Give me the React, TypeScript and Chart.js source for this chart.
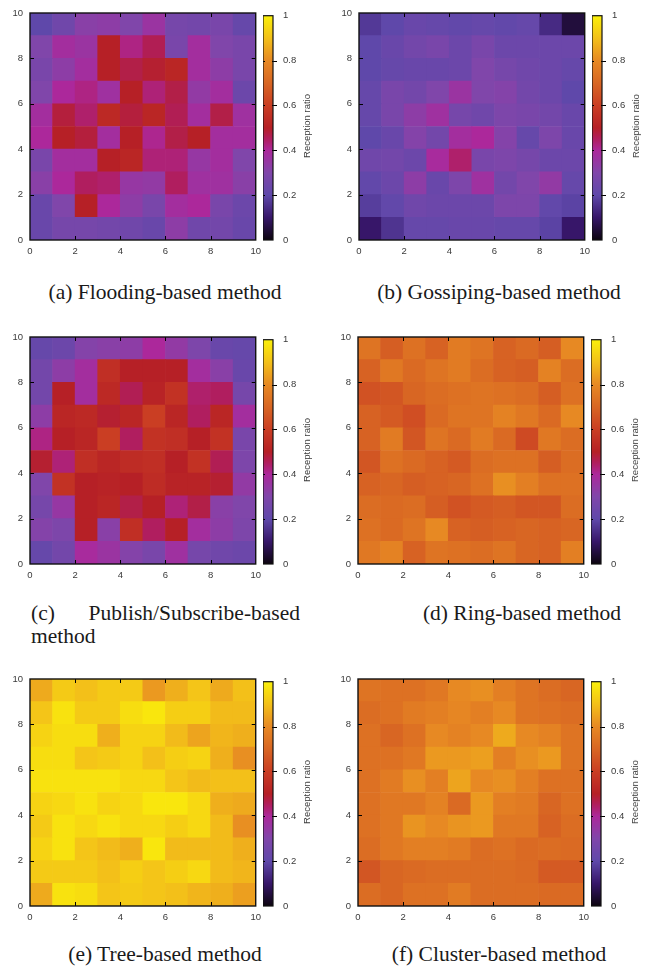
import React, { useEffect, useRef } from "react";
import { Chart, registerables } from "chart.js";

Chart.register(...registerables);

// ---------- data ----------
// Each grid: rows listed from top (y = 9..10) to bottom (y = 0..1), columns x = 0..9
const ROWS = [9, 8, 7, 6, 5, 4, 3, 2, 1, 0];
const COLS = [0, 1, 2, 3, 4, 5, 6, 7, 8, 9];
const AXIS_TICKS = [0, 2, 4, 6, 8, 10];
const CB_TICKS = [0, 0.2, 0.4, 0.6, 0.8, 1];
const CB_TITLE = "Reception ratio";

const flooding = [
  [0.20, 0.25, 0.32, 0.33, 0.30, 0.36, 0.27, 0.26, 0.28, 0.22],
  [0.30, 0.38, 0.36, 0.50, 0.42, 0.46, 0.28, 0.38, 0.30, 0.28],
  [0.28, 0.33, 0.38, 0.50, 0.47, 0.49, 0.52, 0.38, 0.33, 0.28],
  [0.30, 0.40, 0.42, 0.37, 0.50, 0.43, 0.47, 0.34, 0.38, 0.24],
  [0.38, 0.48, 0.44, 0.53, 0.48, 0.52, 0.46, 0.38, 0.47, 0.37],
  [0.40, 0.50, 0.48, 0.38, 0.50, 0.41, 0.47, 0.50, 0.38, 0.38],
  [0.28, 0.38, 0.38, 0.50, 0.52, 0.43, 0.43, 0.35, 0.38, 0.30],
  [0.32, 0.40, 0.45, 0.44, 0.35, 0.34, 0.45, 0.37, 0.37, 0.32],
  [0.23, 0.30, 0.50, 0.40, 0.33, 0.28, 0.38, 0.40, 0.28, 0.24],
  [0.23, 0.27, 0.27, 0.26, 0.25, 0.23, 0.33, 0.25, 0.26, 0.23],
];

const gossiping = [
  [0.17, 0.20, 0.23, 0.22, 0.21, 0.22, 0.21, 0.22, 0.14, 0.05],
  [0.20, 0.23, 0.26, 0.28, 0.24, 0.28, 0.24, 0.24, 0.24, 0.24],
  [0.20, 0.22, 0.23, 0.23, 0.24, 0.30, 0.27, 0.25, 0.24, 0.22],
  [0.22, 0.28, 0.26, 0.30, 0.36, 0.30, 0.31, 0.26, 0.24, 0.20],
  [0.22, 0.28, 0.33, 0.37, 0.27, 0.25, 0.29, 0.28, 0.26, 0.23],
  [0.20, 0.23, 0.31, 0.26, 0.38, 0.40, 0.31, 0.22, 0.29, 0.23],
  [0.25, 0.26, 0.24, 0.39, 0.44, 0.28, 0.29, 0.27, 0.24, 0.24],
  [0.21, 0.24, 0.33, 0.23, 0.29, 0.37, 0.26, 0.30, 0.34, 0.22],
  [0.18, 0.21, 0.25, 0.24, 0.24, 0.24, 0.29, 0.29, 0.21, 0.19],
  [0.10, 0.16, 0.22, 0.22, 0.23, 0.23, 0.22, 0.22, 0.19, 0.10],
];

const pubsub = [
  [0.22, 0.24, 0.31, 0.32, 0.33, 0.40, 0.34, 0.29, 0.23, 0.22],
  [0.26, 0.33, 0.38, 0.55, 0.50, 0.50, 0.50, 0.38, 0.32, 0.23],
  [0.26, 0.50, 0.38, 0.53, 0.46, 0.51, 0.56, 0.44, 0.45, 0.27],
  [0.33, 0.52, 0.53, 0.49, 0.52, 0.60, 0.52, 0.45, 0.52, 0.38],
  [0.42, 0.50, 0.52, 0.60, 0.45, 0.56, 0.55, 0.50, 0.56, 0.28],
  [0.49, 0.43, 0.55, 0.52, 0.54, 0.55, 0.50, 0.56, 0.46, 0.29],
  [0.30, 0.56, 0.50, 0.51, 0.50, 0.54, 0.51, 0.51, 0.49, 0.34],
  [0.27, 0.35, 0.50, 0.52, 0.47, 0.50, 0.43, 0.47, 0.32, 0.30],
  [0.31, 0.29, 0.50, 0.32, 0.55, 0.45, 0.50, 0.38, 0.33, 0.29],
  [0.22, 0.26, 0.39, 0.36, 0.31, 0.28, 0.37, 0.27, 0.25, 0.24],
];

const ring = [
  [0.74, 0.68, 0.73, 0.69, 0.76, 0.74, 0.69, 0.71, 0.68, 0.80],
  [0.69, 0.75, 0.71, 0.74, 0.76, 0.72, 0.69, 0.68, 0.78, 0.72],
  [0.65, 0.66, 0.70, 0.72, 0.73, 0.74, 0.73, 0.72, 0.68, 0.73],
  [0.69, 0.67, 0.64, 0.71, 0.74, 0.74, 0.78, 0.75, 0.71, 0.80],
  [0.69, 0.76, 0.66, 0.74, 0.71, 0.76, 0.71, 0.63, 0.75, 0.72],
  [0.66, 0.73, 0.71, 0.69, 0.67, 0.72, 0.73, 0.73, 0.68, 0.72],
  [0.69, 0.70, 0.68, 0.69, 0.70, 0.73, 0.81, 0.77, 0.73, 0.73],
  [0.72, 0.71, 0.72, 0.68, 0.65, 0.67, 0.68, 0.66, 0.66, 0.72],
  [0.73, 0.71, 0.74, 0.80, 0.69, 0.68, 0.69, 0.70, 0.69, 0.70],
  [0.75, 0.78, 0.69, 0.74, 0.73, 0.72, 0.74, 0.70, 0.69, 0.77],
];

const tree = [
  [0.86, 0.92, 0.90, 0.92, 0.92, 0.83, 0.87, 0.91, 0.86, 0.90],
  [0.91, 0.97, 0.92, 0.92, 0.96, 0.98, 0.93, 0.93, 0.89, 0.89],
  [0.94, 0.96, 0.96, 0.87, 0.94, 0.94, 0.89, 0.85, 0.88, 0.87],
  [0.96, 0.96, 0.91, 0.92, 0.94, 0.90, 0.93, 0.94, 0.87, 0.81],
  [0.97, 0.97, 0.97, 0.97, 0.95, 0.95, 0.91, 0.89, 0.90, 0.90],
  [0.94, 0.95, 0.97, 0.94, 0.95, 0.98, 0.98, 0.95, 0.87, 0.86],
  [0.92, 0.97, 0.95, 0.97, 0.95, 0.95, 0.93, 0.95, 0.89, 0.81],
  [0.94, 0.97, 0.91, 0.89, 0.87, 0.98, 0.89, 0.89, 0.89, 0.87],
  [0.92, 0.92, 0.92, 0.90, 0.93, 0.91, 0.93, 0.95, 0.89, 0.88],
  [0.86, 0.97, 0.96, 0.91, 0.92, 0.91, 0.90, 0.88, 0.87, 0.84],
];

const cluster = [
  [0.74, 0.73, 0.73, 0.75, 0.80, 0.81, 0.77, 0.74, 0.72, 0.70],
  [0.72, 0.73, 0.76, 0.77, 0.79, 0.77, 0.80, 0.74, 0.73, 0.72],
  [0.73, 0.70, 0.73, 0.80, 0.78, 0.80, 0.86, 0.80, 0.78, 0.74],
  [0.73, 0.73, 0.75, 0.83, 0.83, 0.84, 0.77, 0.81, 0.83, 0.74],
  [0.73, 0.76, 0.81, 0.77, 0.85, 0.80, 0.81, 0.77, 0.73, 0.73],
  [0.73, 0.75, 0.75, 0.78, 0.71, 0.83, 0.77, 0.76, 0.70, 0.73],
  [0.73, 0.75, 0.82, 0.80, 0.82, 0.83, 0.75, 0.75, 0.69, 0.72],
  [0.72, 0.75, 0.77, 0.77, 0.76, 0.72, 0.73, 0.71, 0.72, 0.71],
  [0.66, 0.70, 0.71, 0.72, 0.72, 0.72, 0.72, 0.71, 0.67, 0.67],
  [0.72, 0.70, 0.73, 0.73, 0.76, 0.72, 0.72, 0.72, 0.71, 0.71],
];

// ---------- palette (gnuplot-like, as printed) ----------
const PALETTE_STOPS: number[][] = [
  [0.0, 12, 5, 15],
  [0.1, 55, 22, 105],
  [0.2, 95, 72, 170],
  [0.3, 128, 70, 170],
  [0.4, 172, 40, 155],
  [0.45, 176, 30, 95],
  [0.5, 182, 32, 38],
  [0.6, 202, 62, 35],
  [0.7, 216, 102, 35],
  [0.8, 231, 137, 35],
  [0.9, 243, 192, 25],
  [1.0, 250, 240, 10],
];

function paletteColor(v: number): string {
  const t = Math.max(0, Math.min(1, v));
  for (let i = 1; i < PALETTE_STOPS.length; i++) {
    const a = PALETTE_STOPS[i - 1];
    const b = PALETTE_STOPS[i];
    if (t <= b[0]) {
      const f = (t - a[0]) / (b[0] - a[0]);
      const r = Math.round(a[1] + (b[1] - a[1]) * f);
      const g = Math.round(a[2] + (b[2] - a[2]) * f);
      const bl = Math.round(a[3] + (b[3] - a[3]) * f);
      return `rgb(${r},${g},${bl})`;
    }
  }
  return "rgb(250,240,10)";
}

const TICK_FONT = { family: "'Liberation Sans', Arial, sans-serif", size: 9.5 };
const TICK_COLOR = "#3a3a3a";

// ---------- plugins ----------
const framePlugin = {
  id: "heatFrame",
  afterDatasetsDraw(chart: any) {
    const { ctx, chartArea: a, scales } = chart;
    const x = scales.x;
    const y = scales.y;
    ctx.save();
    ctx.strokeStyle = "#000";
    ctx.lineWidth = 1;
    const L = 4;
    ctx.beginPath();
    AXIS_TICKS.forEach((v) => {
      if (v === 0 || v === 10) return;
      const px = Math.round(x.getPixelForValue(v)) + 0.5;
      ctx.moveTo(px, a.bottom);
      ctx.lineTo(px, a.bottom - L);
      ctx.moveTo(px, a.top);
      ctx.lineTo(px, a.top + L);
      const py = Math.round(y.getPixelForValue(v)) + 0.5;
      ctx.moveTo(a.left, py);
      ctx.lineTo(a.left + L, py);
      ctx.moveTo(a.right, py);
      ctx.lineTo(a.right - L, py);
    });
    ctx.stroke();
    ctx.lineWidth = 1.4;
    ctx.strokeStyle = "#111";
    ctx.strokeRect(a.left, a.top, a.right - a.left, a.bottom - a.top);
    ctx.restore();
  },
};

const cbFramePlugin = {
  id: "cbFrame",
  afterDatasetsDraw(chart: any) {
    const { ctx, chartArea: a, scales } = chart;
    const y = scales.y;
    ctx.save();
    ctx.strokeStyle = "#000";
    ctx.lineWidth = 1;
    ctx.beginPath();
    CB_TICKS.forEach((v) => {
      if (v === 0 || v === 1) return;
      const py = Math.round(y.getPixelForValue(v)) + 0.5;
      ctx.moveTo(a.left - 2, py);
      ctx.lineTo(a.left + 2, py);
      ctx.moveTo(a.right - 1, py);
      ctx.lineTo(a.right + 4, py);
    });
    ctx.stroke();
    ctx.lineWidth = 1.2;
    ctx.strokeStyle = "#111";
    ctx.strokeRect(a.left, a.top, a.right - a.left, a.bottom - a.top);
    ctx.restore();
  },
};

// ---------- components ----------
const HM_W = 267;
const HM_H = 260;

function Heatmap({ grid, left, top }: { grid: number[][]; left: number; top: number }) {
  const ref = useRef<HTMLCanvasElement | null>(null);
  useEffect(() => {
    if (!ref.current) return;
    const cells: any[] = [];
    grid.forEach((row, i) =>
      row.forEach((v, j) => {
        cells.push({ x: COLS[j] + 0.5, y: [ROWS[i], ROWS[i] + 1], v });
      })
    );
    const chart = new Chart(ref.current, {
      type: "bar",
      data: {
        datasets: [
          {
            data: cells,
            backgroundColor: (c: any) => (c.raw ? paletteColor(c.raw.v) : "#000"),
            borderWidth: 0,
            barPercentage: 1,
            categoryPercentage: 1,
            grouped: false,
          } as any,
        ],
      },
      options: {
        animation: false,
        responsive: false,
        events: [],
        layout: { padding: { top: 13, right: 10, left: 0, bottom: 0 } },
        plugins: { legend: { display: false }, tooltip: { enabled: false } },
        scales: {
          x: {
            type: "linear",
            min: 0,
            max: 10,
            offset: false,
            grid: { display: false, offset: false, drawTicks: false },
            border: { display: false },
            afterBuildTicks: (s: any) => {
              s.ticks = AXIS_TICKS.map((v) => ({ value: v }));
            },
            afterFit: (s: any) => {
              s.height = 20;
            },
            ticks: { font: TICK_FONT, color: TICK_COLOR, padding: 6, maxRotation: 0, autoSkip: false, callback: (v: any) => String(v) },
          },
          y: {
            type: "linear",
            min: 0,
            max: 10,
            grid: { display: false, drawTicks: false },
            border: { display: false },
            afterBuildTicks: (s: any) => {
              s.ticks = AXIS_TICKS.map((v) => ({ value: v }));
            },
            afterFit: (s: any) => {
              s.width = 30;
            },
            ticks: { font: TICK_FONT, color: TICK_COLOR, padding: 7, autoSkip: false, callback: (v: any) => String(v) },
          },
        },
      } as any,
      plugins: [framePlugin],
    });
    return () => chart.destroy();
  }, [grid]);
  return (
    <canvas
      ref={ref}
      width={HM_W}
      height={HM_H}
      style={{ position: "absolute", left: left - 30, top: top - 13, width: HM_W, height: HM_H }}
    />
  );
}

function ColorBar({ left, top }: { left: number; top: number }) {
  const ref = useRef<HTMLCanvasElement | null>(null);
  useEffect(() => {
    if (!ref.current) return;
    const chart = new Chart(ref.current, {
      type: "bar",
      data: {
        labels: ["cb"],
        datasets: [
          {
            data: [[CB_TICKS[0], CB_TICKS[CB_TICKS.length - 1]]],
            backgroundColor: (c: any) => {
              const ch = c.chart;
              if (!ch.chartArea || !ch.scales.y) return "#888";
              const y = ch.scales.y;
              const g = ch.ctx.createLinearGradient(0, y.getPixelForValue(0), 0, y.getPixelForValue(1));
              for (let i = 0; i <= 50; i++) g.addColorStop(i / 50, paletteColor(i / 50));
              return g;
            },
            borderWidth: 0,
            barPercentage: 1,
            categoryPercentage: 1,
          } as any,
        ],
      },
      options: {
        animation: false,
        responsive: false,
        events: [],
        layout: { padding: { top: 13, bottom: 20, left: 0, right: 0 } },
        plugins: { legend: { display: false }, tooltip: { enabled: false } },
        scales: {
          x: { display: false },
          y: {
            position: "right",
            min: 0,
            max: 1,
            grid: { display: false, drawTicks: false },
            border: { display: false },
            afterBuildTicks: (s: any) => {
              s.ticks = CB_TICKS.map((v) => ({ value: v }));
            },
            afterFit: (s: any) => {
              s.width = 34;
            },
            ticks: { font: TICK_FONT, color: TICK_COLOR, padding: 10, autoSkip: false, callback: (v: any) => String(v) },
          },
        },
      } as any,
      plugins: [cbFramePlugin],
    });
    return () => chart.destroy();
  }, []);
  return (
    <canvas
      ref={ref}
      width={44}
      height={260}
      style={{ position: "absolute", left: left, top: top - 13, width: 44, height: 260 }}
    />
  );
}

function Panel({ grid, left, top }: { grid: number[][]; left: number; top: number }) {
  return (
    <>
      <Heatmap grid={grid} left={left} top={top} />
      <ColorBar left={left + 233} top={top} />
      <div
        style={{
          position: "absolute",
          left: left + 277,
          top: top + 113,
          transform: "translate(-50%, -50%) rotate(-90deg)",
          whiteSpace: "nowrap",
          fontFamily: "'Liberation Sans', Arial, sans-serif",
          fontSize: 9.5,
          color: TICK_COLOR,
          lineHeight: "10px",
        }}
      >
        {CB_TITLE}
      </div>
    </>
  );
}

const CAPTION_STYLE: React.CSSProperties = {
  position: "absolute",
  fontFamily: "'Liberation Serif', 'Times New Roman', serif",
  fontSize: 21.5,
  lineHeight: "23px",
  color: "#1a1a1a",
  whiteSpace: "nowrap",
};

function Caption({ text, cx, baseline }: { text: string; cx: number; baseline: number }) {
  return (
    <div style={{ ...CAPTION_STYLE, left: cx, top: baseline - 18, transform: "translateX(-50%)" }}>{text}</div>
  );
}

export default function App() {
  return (
    <div style={{ position: "absolute", left: 0, top: 0, width: 645, height: 967, background: "#fff", overflow: "hidden" }}>
      <Panel grid={flooding} left={30} top={13} />
      <Panel grid={gossiping} left={359} top={13} />
      <Panel grid={pubsub} left={30} top={337} />
      <Panel grid={ring} left={358} top={337} />
      <Panel grid={tree} left={30} top={679} />
      <Panel grid={cluster} left={358} top={679} />

      <Caption text="(a) Flooding-based method" cx={165} baseline={299} />
      <Caption text="(b) Gossiping-based method" cx={499} baseline={299} />
      <div style={{ ...CAPTION_STYLE, left: 31, top: 620 - 18 }}>(c)</div>
      <div style={{ ...CAPTION_STYLE, left: 300, top: 620 - 18, transform: "translateX(-100%)" }}>Publish/Subscribe-based</div>
      <div style={{ ...CAPTION_STYLE, left: 31, top: 643 - 18 }}>method</div>
      <Caption text="(d) Ring-based method" cx={522} baseline={620} />
      <Caption text="(e) Tree-based method" cx={165} baseline={961} />
      <Caption text="(f) Cluster-based method" cx={499} baseline={961} />
    </div>
  );
}
